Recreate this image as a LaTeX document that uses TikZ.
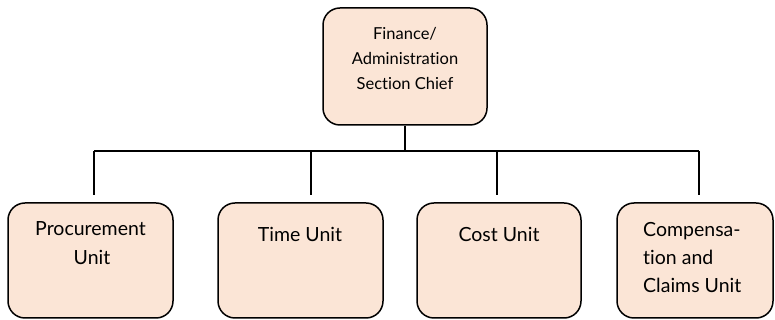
\documentclass[tikz,border=0pt]{standalone}
\usepackage{fontspec}
\setmainfont[Ligatures=NoCommon]{Lato}
\definecolor{peach}{RGB}{251,229,214}
\begin{document}
\begin{tikzpicture}[x=1pt,y=1pt,
  box/.style={draw=black,line width=1.5pt,fill=peach,rounded corners=17pt,inner sep=0pt},
  conn/.style={draw=black,line width=1.3pt},
  toptxt/.style={anchor=base,inner sep=0pt,font=\fontsize{16.5}{19}\selectfont},
  bottxt/.style={anchor=base,inner sep=0pt,font=\fontsize{19.5}{23}\selectfont}]
\useasboundingbox (0,0) rectangle (775,320);
% boxes
\node[box,minimum width=164pt,minimum height=117pt] (chief) at (405,253.5) {};
\node[box,minimum width=165pt,minimum height=115pt] (proc) at (90.5,59.5) {};
\node[box,minimum width=165pt,minimum height=115pt] (time) at (300.5,59.5) {};
\node[box,minimum width=164pt,minimum height=115pt] (cost) at (499,59.5) {};
\node[box,minimum width=156pt,minimum height=115pt] (comp) at (695,59.5) {};
% texts
\node[toptxt] (c1) at (405,280.7) {Finance/};
\node[toptxt] (c2) at (405,255.7) {Administration};
\node[toptxt] (c3) at (405,230.7) {Section Chief};
\node[bottxt] (p1) at (90.5,84) {Procurement};
\node[bottxt] (p2) at (92,55) {Unit};
\node[bottxt] (t1) at (300,78.3) {Time Unit};
\node[bottxt] (k1) at (499,78.3) {Cost Unit};
\node[bottxt,anchor=base west] (m1) at (643,83.3) {Compensa-};
\node[bottxt,anchor=base west] (m2) at (643,55) {tion and};
\node[bottxt,anchor=base west] (m3) at (643,27.3) {Claims Unit};
% connectors
\coordinate (hub) at (405,169);
\coordinate (hl) at (94,169);
\coordinate (hr) at (699,169);
\coordinate (e1) at (94,125);
\coordinate (e2) at (311,125);
\coordinate (e3) at (497,125);
\coordinate (e4) at (699,125);
\coordinate (h2) at (311,169);
\coordinate (h3) at (497,169);
\draw[conn] (chief.south) -- (hub);
\draw[conn] (hl) -- (hr);
\draw[conn] (hl) -- (e1);
\draw[conn] (h2) -- (e2);
\draw[conn] (h3) -- (e3);
\draw[conn] (hr) -- (e4);
\end{tikzpicture}
\end{document}
